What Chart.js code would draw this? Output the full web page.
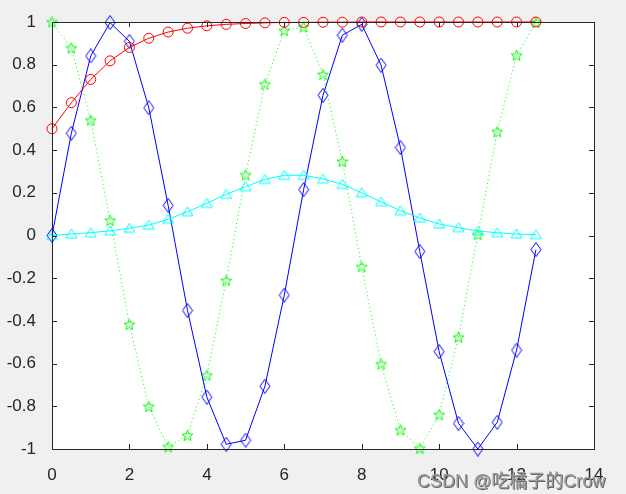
<!DOCTYPE html>
<html>
<head>
<meta charset="utf-8">
<script src="https://cdn.jsdelivr.net/npm/chart.js@4.4.0/dist/chart.umd.min.js"></script>
<style>
  body { margin: 0; background: #f0f0f0; }
  #wrap { position: relative; width: 626px; height: 494px; }
  #mark { position: absolute; left: 417px; top: 466px; font: 18px "Liberation Sans", Arial, "Noto Sans CJK SC", sans-serif;
          color: #9a9a9a; text-shadow: 1px 1px 0 #666; white-space: nowrap; }
</style>
</head>
<body>
<div id="wrap">
  <canvas id="myChart" width="626" height="494"></canvas>
  <div id="mark">CSDN @吃橘子的Crow</div>
</div>
<script>
// x = 0:0.5:12.5
const xs = [0, 0.5, 1, 1.5, 2, 2.5, 3, 3.5, 4, 4.5, 5, 5.5, 6, 6.5, 7, 7.5, 8, 8.5, 9, 9.5, 10, 10.5, 11, 11.5, 12, 12.5];
const sinVals = [0, 0.479, 0.841, 0.997, 0.909, 0.598, 0.141, -0.351, -0.757, -0.978, -0.959, -0.706, -0.279,
                 0.215, 0.657, 0.938, 0.989, 0.798, 0.412, -0.075, -0.544, -0.880, -1.000, -0.875, -0.537, -0.066];
const cosVals = [1, 0.878, 0.540, 0.071, -0.416, -0.801, -0.990, -0.936, -0.654, -0.211, 0.284, 0.709, 0.960,
                 0.977, 0.754, 0.347, -0.146, -0.602, -0.911, -0.997, -0.839, -0.476, 0.004, 0.486, 0.844, 0.998];
const sigVals = [0.5, 0.622, 0.731, 0.818, 0.881, 0.924, 0.953, 0.971, 0.982, 0.989, 0.993, 0.996, 0.998,
                 0.998, 0.999, 0.999, 1, 1, 1, 1, 1, 1, 1, 1, 1, 1];
const bellVals = [0, 0.007, 0.013, 0.022, 0.034, 0.049, 0.076, 0.111, 0.151, 0.193, 0.229, 0.263, 0.282,
                  0.282, 0.265, 0.240, 0.200, 0.158, 0.116, 0.082, 0.054, 0.037, 0.021, 0.013, 0.007, 0.004];
const xTicks = [0, 2, 4, 6, 8, 10, 12, 14];
const yTicks = [-1, -0.8, -0.6, -0.4, -0.2, 0, 0.2, 0.4, 0.6, 0.8, 1];

const pts = ys => xs.map((x, i) => ({ x: x, y: ys[i] }));

// marker images (matlab style, unfilled)
function marker(w, h, color, draw) {
    const c = document.createElement('canvas');
    c.width = w; c.height = h;
    const g = c.getContext('2d');
    g.strokeStyle = color; g.lineWidth = 1;
    g.beginPath(); draw(g, w, h); g.closePath(); g.stroke();
    return c;
}
const diamond = marker(12, 15, '#0000ff', (g, w, h) => {
    g.moveTo(w / 2, 0.5); g.lineTo(w - 1, h / 2); g.lineTo(w / 2, h - 0.5); g.lineTo(1, h / 2);
});
const star = marker(13, 13, '#00ff00', (g, w, h) => {
    const cx = w / 2, cy = h / 2 + 0.5, R = 5.8, r = 2.4;
    for (let i = 0; i < 10; i++) {
        const a = -Math.PI / 2 + i * Math.PI / 5;
        const rr = i % 2 ? r : R;
        g.lineTo(cx + rr * Math.cos(a), cy + rr * Math.sin(a));
    }
});
const tri = marker(13, 12, '#00ffff', (g, w, h) => {
    g.moveTo(w / 2, 1); g.lineTo(w - 1, h - 2); g.lineTo(1, h - 2);
});

const fmt = v => String(Math.round(v * 10) / 10);

// box + inward ticks on all four sides
const boxPlugin = {
    id: 'box',
    beforeDraw(chart) {
        const { ctx, chartArea: a } = chart;
        ctx.save();
        ctx.fillStyle = '#ffffff';
        ctx.fillRect(a.left, a.top, a.right - a.left, a.bottom - a.top);
        ctx.restore();
    },
    afterDraw(chart) {
        const { ctx, chartArea: a, scales } = chart;
        ctx.save();
        ctx.strokeStyle = '#262626';
        ctx.lineWidth = 1;
        ctx.strokeRect(Math.round(a.left) + 0.5, Math.round(a.top) + 0.5, Math.round(a.right - a.left), Math.round(a.bottom - a.top));
        ctx.beginPath();
        xTicks.forEach(v => {
            const px = Math.round(scales.x.getPixelForValue(v)) + 0.5;
            ctx.moveTo(px, a.bottom); ctx.lineTo(px, a.bottom - 5);
            ctx.moveTo(px, a.top); ctx.lineTo(px, a.top + 5);
        });
        yTicks.forEach(v => {
            const py = Math.round(scales.y.getPixelForValue(v)) + 0.5;
            ctx.moveTo(a.left, py); ctx.lineTo(a.left + 5, py);
            ctx.moveTo(a.right, py); ctx.lineTo(a.right - 5, py);
        });
        ctx.stroke();
        ctx.restore();
    }
};

const ctx = document.getElementById('myChart').getContext('2d');
const myChart = new Chart(ctx, {
    type: 'line',
    data: {
        datasets: [
            { data: pts(sigVals), borderColor: '#ff0000', borderWidth: 1, pointStyle: 'circle', pointRadius: 5, clip: false,
              pointBorderColor: '#ff0000', pointBackgroundColor: 'rgba(0,0,0,0)', pointBorderWidth: 1 },
            { data: pts(bellVals), borderColor: '#00ffff', borderWidth: 1, pointStyle: tri, clip: false },
            { data: pts(sinVals), borderColor: '#0000ff', borderWidth: 1, pointStyle: diamond, clip: false },
            { data: pts(cosVals), borderColor: '#00ff00', borderWidth: 1, borderDash: [1, 3], pointStyle: star, clip: false }
        ]
    },
    options: {
        responsive: false,
        animation: false,
        layout: { padding: { top: 22, right: 32, left: 0, bottom: 0 } },
        plugins: { legend: { display: false }, tooltip: { enabled: false } },
        elements: { line: { tension: 0, fill: false }, point: { radius: 5 } },
        scales: {
            x: {
                type: 'linear', min: 0, max: 14,
                afterBuildTicks: s => { s.ticks = xTicks.map(v => ({ value: v })); },
                afterFit: s => { s.height = 45; },
                grid: { display: false }, border: { display: false },
                ticks: { color: '#262626', padding: 8, font: { family: '"Liberation Sans", Arial', size: 17 }, maxRotation: 0 }
            },
            y: {
                type: 'linear', min: -1, max: 1,
                afterBuildTicks: s => { s.ticks = yTicks.map(v => ({ value: v })); },
                afterFit: s => { s.width = 52; },
                grid: { display: false }, border: { display: false },
                ticks: { color: '#262626', padding: 8, callback: v => fmt(v), font: { family: '"Liberation Sans", Arial', size: 17 } }
            }
        }
    },
    plugins: [boxPlugin]
});
</script>
</body>
</html>
